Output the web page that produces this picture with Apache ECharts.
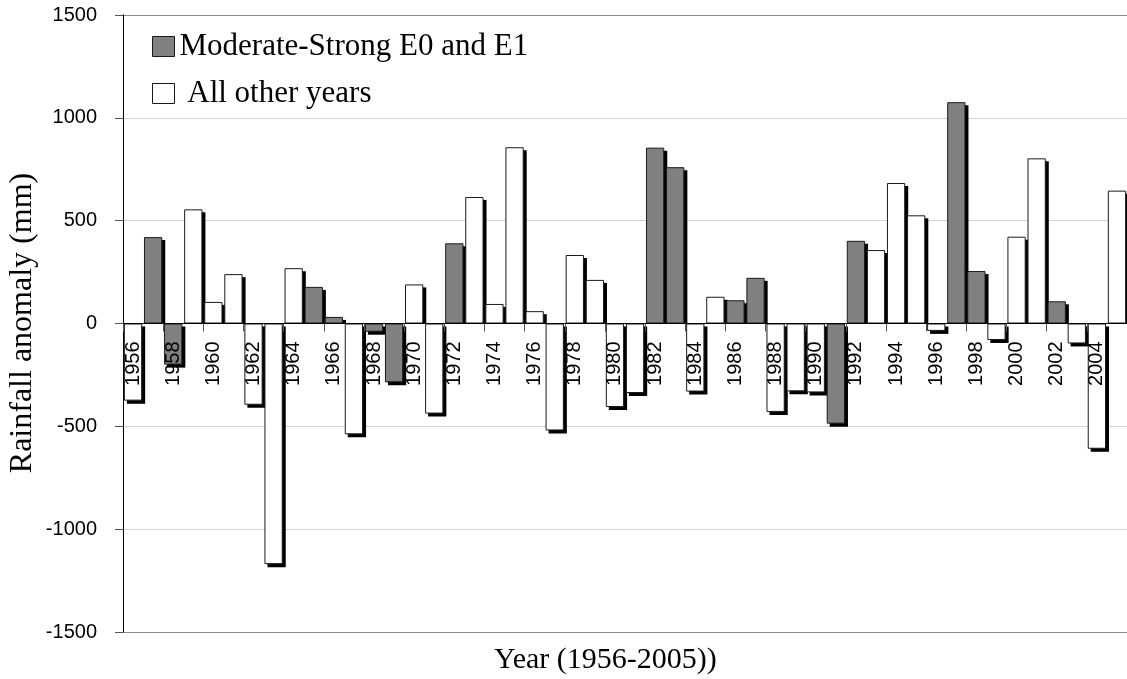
<!DOCTYPE html>
<html>
<head>
<meta charset="utf-8">
<script src="https://cdn.jsdelivr.net/npm/echarts@6/dist/echarts.min.js"></script>
<style>
html,body{margin:0;padding:0;background:#fff;}
#chart{width:1127px;height:679px;}
</style>
</head>
<body>
<div id="chart"></div>
<script>
var years = ['1956','1957','1958','1959','1960','1961','1962','1963','1964','1965',
             '1966','1967','1968','1969','1970','1971','1972','1973','1974','1975',
             '1976','1977','1978','1979','1980','1981','1982','1983','1984','1985',
             '1986','1987','1988','1989','1990','1991','1992','1993','1994','1995',
             '1996','1997','1998','1999','2000','2001','2002','2003','2004','2005'];

var moderateStrong = [null, 420, -200, null, null, null, null, null, null, 178,
                      32, null, -40, -286, null, null, 390, null, null, null,
                      null, null, null, null, null, null, 855, 760, null, null,
                      113, 222, null, null, null, -487, 402, null, null, null,
                      null, 1076, 255, null, null, null, 108, null, null, null];

var otherYears = [-375, null, null, 555, 105, 240, -395, -1170, 269, null,
                  null, -539, null, null, 190, -438, null, 615, 95, 857,
                  60, -520, 333, 212, -406, -338, null, null, -331, 130,
                  null, null, -430, -330, -335, null, null, 357, 683, 526,
                  -36, null, null, -80, 422, 803, null, -97, -609, 646];

var yTicks = [-1500, -1000, -500, 0, 500, 1000, 1500];

var seriesNames = ['Moderate-Strong E0 and E1', 'All other years'];
var yAxisTitle = 'Rainfall anomaly (mm)';
var xAxisTitle = 'Year (1956-2005))';
var fills = ['#808080', '#ffffff'];
var seriesData = [moderateStrong, otherYears];
var BAR_RATIO = 0.91;
var SHADOW = 3;

// shadow data: [categoryIndex, value] for every drawn bar
var shadowData = [];
seriesData.forEach(function (d) {
  d.forEach(function (v, i) { if (v !== null) shadowData.push([i, v]); });
});

var chart = echarts.init(document.getElementById('chart'), null, {renderer: 'canvas'});

var series = [{
  name: 'shadow',
  type: 'custom',
  data: shadowData,
  silent: true,
  z: 1,
  renderItem: function (params, api) {
    var idx = api.value(0), val = api.value(1);
    var p0 = api.coord([idx, 0]);
    var p1 = api.coord([idx, val]);
    var w = api.size([1, 0])[0] * BAR_RATIO;
    var x = p0[0] - w / 2 + SHADOW;
    var yTop, yBot;
    if (val >= 0) { yTop = p1[1] + SHADOW; yBot = p0[1]; }
    else { yTop = p0[1] + SHADOW; yBot = p1[1] + SHADOW; }
    return {
      type: 'rect',
      shape: {x: x, y: yTop, width: w, height: Math.max(0, yBot - yTop)},
      style: {fill: '#000'}
    };
  }
}];
seriesData.forEach(function (d, i) {
  series.push({
    name: seriesNames[i],
    type: 'bar',
    data: d,
    z: 2,
    barWidth: (BAR_RATIO * 100) + '%',
    barGap: '-100%',
    itemStyle: {color: fills[i], borderColor: '#1a1a1a', borderWidth: 1},
    emphasis: {disabled: true}
  });
});

chart.setOption({
  animation: false,
  backgroundColor: '#fff',
  title: {
    text: xAxisTitle,
    left: 494,
    top: 645,
    padding: 0,
    textStyle: {fontFamily: 'Liberation Serif', fontSize: 30, fontWeight: 'normal', color: '#000'}
  },
  graphic: [{
    type: 'text',
    x: 23,
    y: 323,
    rotation: Math.PI / 2,
    silent: true,
    style: {
      text: yAxisTitle,
      font: '32px "Liberation Serif"',
      fill: '#000',
      align: 'center',
      verticalAlign: 'middle'
    }
  }],
  legend: {
    orient: 'vertical',
    left: 152,
    top: 31,
    padding: 0,
    icon: 'rect',
    itemWidth: 22,
    itemHeight: 20,
    itemGap: 16,
    data: seriesNames,
    formatter: function (name) { return name === seriesNames[1] ? ' ' + name : name; },
    textStyle: {fontFamily: 'Liberation Serif', fontSize: 31, color: '#000'},
    itemStyle: {borderColor: '#1a1a1a', borderWidth: 1},
    selectedMode: false
  },
  grid: {left: 123, right: 0, top: 15, bottom: 47, containLabel: false, outerBoundsMode: 'none'},
  xAxis: {
    type: 'category',
    data: years,
    z: 5,
    boundaryGap: true,
    axisLine: {onZero: false, lineStyle: {color: '#000', width: 1}},
    axisTick: {show: true, interval: 1, length: 8, inside: false, lineStyle: {color: '#555'}},
    axisLabel: {
      interval: 1,
      rotate: 90,
      margin: 18,
      fontFamily: 'Liberation Sans',
      fontSize: 20,
      color: '#000'
    },
    splitLine: {show: false}
  },
  yAxis: {
    type: 'value',
    min: yTicks[0],
    max: yTicks[yTicks.length - 1],
    interval: 500,
    axisLine: {show: true, lineStyle: {color: '#000', width: 1}},
    axisTick: {show: true, length: 8, lineStyle: {color: '#555'}},
    axisLabel: {fontFamily: 'Liberation Sans', fontSize: 20, color: '#000', margin: 26,
                formatter: function (v) { return String(v); }},
    splitLine: {show: true, lineStyle: {color: ['#8c8c8c', '#d4d4d4', '#d4d4d4', '#d4d4d4', '#d4d4d4', '#d4d4d4', '#8c8c8c'], width: 1}}
  },
  series: series
});

// place the category axis on the zero line of the value axis
var yZero = chart.convertToPixel({yAxisIndex: 0}, 0);
var yBottom = chart.convertToPixel({yAxisIndex: 0}, yTicks[0]);
chart.setOption({xAxis: {offset: -(yBottom - yZero)}});
</script>
</body>
</html>
